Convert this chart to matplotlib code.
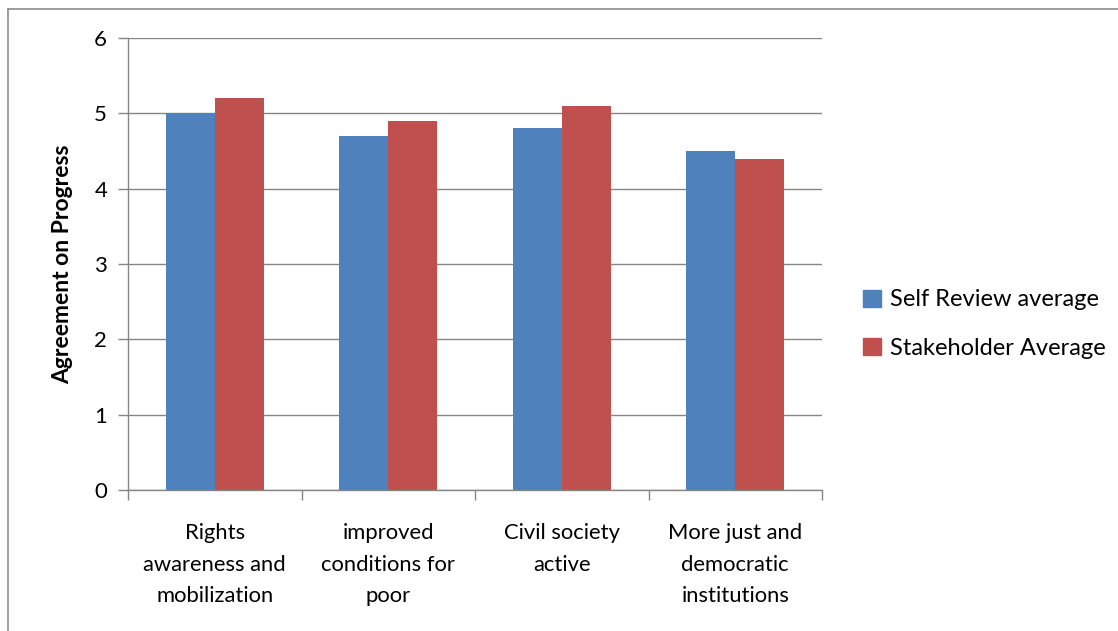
import matplotlib
matplotlib.use("Agg")
import matplotlib.pyplot as plt
import numpy as np
from matplotlib.lines import Line2D
from matplotlib.patches import Patch

categories = ["Rights\nawareness and\nmobilization", "improved\nconditions for\npoor",
              "Civil society\nactive", "More just and\ndemocratic\ninstitutions"]
self_review = [5.0, 4.7, 4.8, 4.5]
stakeholder = [5.2, 4.9, 5.1, 4.4]
series_names = ["Self Review average", "Stakeholder Average"]
y_ticks = [0, 1, 2, 3, 4, 5, 6]

BLUE = "#4F81BD"
RED = "#C0504D"
GRID = "#868686"
FONT = "Lato"

plt.rcParams["font.family"] = [FONT, "DejaVu Sans"]

fig = plt.figure(figsize=(11.18, 6.31), dpi=100)
ax = fig.add_axes([128 / 1118, 1 - 490 / 631, (822 - 128) / 1118, (490 - 38) / 631])

x = np.arange(len(categories))
w = 0.283
ax.bar(x - w / 2, self_review, w, color=BLUE, label=series_names[0])
ax.bar(x + w / 2, stakeholder, w, color=RED, label=series_names[1])

ax.set_xlim(-0.5, len(categories) - 0.5)
ax.set_ylim(0, 6)
ax.set_yticks(y_ticks)
ax.set_yticklabels([str(v) for v in y_ticks], fontsize=16)
ax.yaxis.grid(True, color=GRID, linewidth=1)
ax.set_axisbelow(True)

# category labels centred under groups, ticks at group boundaries
ax.set_xticks(np.arange(-0.5, len(categories)), minor=False)
ax.set_xticklabels([])
ax.set_xticks(x, minor=True)
ax.set_xticklabels(categories, minor=True, fontsize=15.8, linespacing=1.72)
ax.tick_params(axis="x", which="minor", length=0, pad=24)
ax.tick_params(axis="x", which="major", length=7, color=GRID, width=1)
ax.tick_params(axis="y", length=7, color=GRID, width=1, pad=8)

for s in ["top", "right"]:
    ax.spines[s].set_visible(False)
for s in ["left", "bottom"]:
    ax.spines[s].set_color(GRID)
    ax.spines[s].set_linewidth(1)

ax.set_ylabel("Agreement on Progress", fontsize=16.5, fontweight="bold", labelpad=15)

handles = [Patch(color=BLUE), Patch(color=RED)]
fig.legend(handles, series_names, loc="center left", bbox_to_anchor=(863 / 1118, 1 - 324 / 631),
           frameon=False, fontsize=17, handlelength=0.75, handleheight=0.75,
           handletextpad=0.4, labelspacing=1.15, borderaxespad=0, borderpad=0)

# outer frame
fig.add_artist(Line2D([8 / 1118, 8 / 1118], [0, 1 - 9 / 631], color="#8c8c8c", linewidth=1.2))
fig.add_artist(Line2D([8 / 1118, 1], [1 - 9 / 631, 1 - 9 / 631], color="#8c8c8c", linewidth=1.2))

fig.savefig("out.png", dpi=100)
